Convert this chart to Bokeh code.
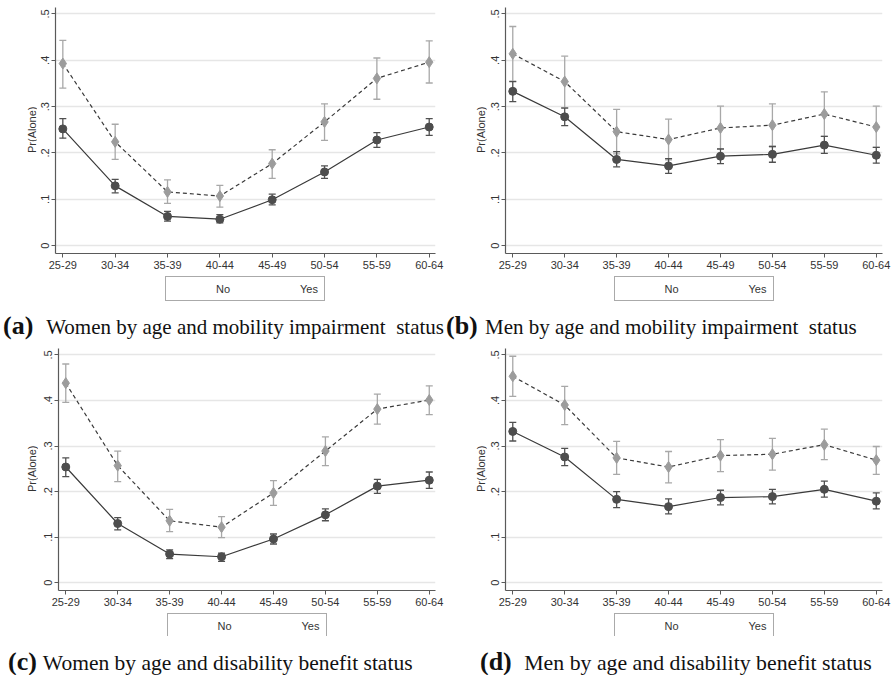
from bokeh.plotting import figure
from bokeh.models import (ColumnDataSource, Whisker, TeeHead, Legend, LegendItem,
                          FixedTicker, Range1d, Div)
from bokeh.layouts import column, row
from bokeh.embed import file_html
from bokeh.resources import INLINE

# ---------------- data ----------------
age_groups = ["25-29", "30-34", "35-39", "40-44", "45-49", "50-54", "55-59", "60-64"]

y_ticks = [0, 0.1, 0.2, 0.3, 0.4, 0.5]
y_tick_labels = ["0", ".1", ".2", ".3", ".4", ".5"]

legend_labels = ["No", "Yes"]
y_label = "Pr(Alone)"

# (a) Women by mobility impairment
a_no     = [0.252, 0.129, 0.063, 0.057, 0.099, 0.159, 0.228, 0.256]
a_no_lo  = [0.232, 0.114, 0.053, 0.049, 0.088, 0.145, 0.212, 0.238]
a_no_hi  = [0.274, 0.143, 0.074, 0.067, 0.111, 0.172, 0.244, 0.274]
a_yes    = [0.393, 0.224, 0.116, 0.107, 0.177, 0.267, 0.361, 0.396]
a_yes_lo = [0.340, 0.186, 0.091, 0.083, 0.145, 0.227, 0.316, 0.351]
a_yes_hi = [0.443, 0.262, 0.142, 0.130, 0.207, 0.306, 0.405, 0.442]

# (b) Men by mobility impairment
b_no     = [0.333, 0.278, 0.186, 0.172, 0.193, 0.197, 0.217, 0.195]
b_no_lo  = [0.311, 0.259, 0.170, 0.156, 0.177, 0.180, 0.199, 0.178]
b_no_hi  = [0.354, 0.297, 0.203, 0.188, 0.209, 0.214, 0.236, 0.212]
b_yes    = [0.414, 0.354, 0.246, 0.229, 0.254, 0.260, 0.284, 0.256]
b_yes_lo = [0.355, 0.298, 0.198, 0.185, 0.208, 0.214, 0.236, 0.212]
b_yes_hi = [0.473, 0.409, 0.294, 0.273, 0.301, 0.306, 0.332, 0.301]

# (c) Women by disability benefit
c_no     = [0.254, 0.130, 0.063, 0.057, 0.096, 0.149, 0.212, 0.225]
c_no_lo  = [0.233, 0.116, 0.053, 0.047, 0.085, 0.136, 0.196, 0.207]
c_no_hi  = [0.274, 0.143, 0.072, 0.065, 0.107, 0.162, 0.227, 0.243]
c_yes    = [0.438, 0.257, 0.136, 0.122, 0.197, 0.289, 0.381, 0.401]
c_yes_lo = [0.396, 0.222, 0.112, 0.099, 0.170, 0.257, 0.348, 0.369]
c_yes_hi = [0.480, 0.289, 0.161, 0.145, 0.224, 0.320, 0.414, 0.432]

# (d) Men by disability benefit
d_no     = [0.332, 0.276, 0.183, 0.167, 0.187, 0.189, 0.205, 0.179]
d_no_lo  = [0.311, 0.257, 0.165, 0.151, 0.171, 0.173, 0.188, 0.162]
d_no_hi  = [0.352, 0.295, 0.200, 0.184, 0.203, 0.205, 0.223, 0.197]
d_yes    = [0.453, 0.390, 0.274, 0.254, 0.279, 0.282, 0.303, 0.269]
d_yes_lo = [0.409, 0.347, 0.238, 0.219, 0.244, 0.247, 0.270, 0.238]
d_yes_hi = [0.497, 0.431, 0.310, 0.288, 0.314, 0.317, 0.337, 0.299]

captions = [
    ("(a)", "Women by age and mobility impairment&nbsp; status"),
    ("(b)", "Men by age and mobility impairment&nbsp; status"),
    ("(c)", "Women by age and disability benefit status"),
    ("(d)", "Men by age and disability benefit status"),
]

# ---------------- styling ----------------
NO_LINE = "#3a3a3a"
NO_MARK = "#4d4d4d"
NO_ERR = "#505050"
YES_LINE = "#3a3a3a"
YES_MARK = "#9c9c9c"
YES_ERR = "#a8a8a8"
AXIS = "#5a5a5a"
TEXT = "#333333"
GRID = "#e6e6e6"
SANS = "Liberation Sans"
SERIF = "Liberation Serif"

x_pos = list(range(len(age_groups)))


def legend_figure(g):
    """Small figure that only carries the legend box, centred under the plot frame."""
    lf = figure(output_backend="svg", toolbar_location=None,
                width=g["fw"], height=g["lh"],
                min_border_left=19, min_border_right=g["br"],
                min_border_top=0, min_border_bottom=0,
                x_axis_type=None, y_axis_type=None,
                x_range=Range1d(0, 1), y_range=Range1d(0, 1),
                background_fill_color="white", border_fill_color="white")
    lf.outline_line_color = None
    l_no = lf.line(x=[], y=[], line_color=NO_LINE, line_width=1.2)
    m_no = lf.scatter(x=[], y=[], marker="circle", size=8,
                      fill_color=NO_MARK, line_color=NO_MARK)
    l_yes = lf.line(x=[], y=[], line_color=YES_LINE, line_width=1.2, line_dash="4 3")
    m_yes = lf.scatter(x=[], y=[], marker="diamond", size=11,
                       fill_color=YES_MARK, line_color=YES_MARK)
    legend = Legend(items=[LegendItem(label=legend_labels[0], renderers=[l_no, m_no]),
                           LegendItem(label=legend_labels[1], renderers=[l_yes, m_yes])],
                    orientation="horizontal", location="top_center",
                    glyph_width=38, glyph_height=15, label_height=15,
                    label_standoff=8, spacing=18, padding=4, margin=1,
                    border_line_color="#555555", border_line_width=1,
                    label_text_font=SANS, label_text_font_size="11px",
                    label_text_color=TEXT)
    lf.add_layout(legend)
    return lf


def make_panel(no, no_lo, no_hi, yes, yes_lo, yes_hi, cap, g):
    p = figure(output_backend="svg", toolbar_location=None,
               width=g["fw"], height=g["h"],
               min_border_left=19, min_border_right=g["br"],
               min_border_top=g["bt"], min_border_bottom=g["bb"],
               x_range=Range1d(-0.14, 7.12), y_range=Range1d(-0.017, 0.514),
               background_fill_color="white", border_fill_color="white")
    p.outline_line_color = None

    p.xaxis.ticker = FixedTicker(ticks=x_pos)
    p.xaxis.major_label_overrides = dict(zip(x_pos, age_groups))
    p.yaxis.ticker = FixedTicker(ticks=y_ticks)
    p.yaxis.major_label_overrides = dict(zip(y_ticks, y_tick_labels))
    p.yaxis.major_label_orientation = "vertical"
    for ax in (p.xaxis, p.yaxis):
        ax.axis_line_color = AXIS
        ax.axis_line_width = 1.2
        ax.major_tick_line_color = AXIS
        ax.major_tick_in = 0
        ax.major_tick_out = 4
        ax.minor_tick_line_color = None
        ax.major_label_text_font = SANS
        ax.major_label_text_font_size = "11px"
        ax.major_label_text_color = TEXT
        ax.major_label_standoff = 3
    p.yaxis.major_label_standoff = 2

    p.xgrid.grid_line_color = None
    p.ygrid.ticker = FixedTicker(ticks=y_ticks)
    p.ygrid.grid_line_color = GRID
    p.ygrid.grid_line_width = 1.5

    src_no = ColumnDataSource(dict(x=x_pos, y=no, lo=no_lo, hi=no_hi))
    src_yes = ColumnDataSource(dict(x=x_pos, y=yes, lo=yes_lo, hi=yes_hi))

    for src, col in ((src_yes, YES_ERR), (src_no, NO_ERR)):
        p.add_layout(Whisker(base="x", lower="lo", upper="hi", source=src,
                             line_color=col, line_width=1.3, level="underlay",
                             lower_head=TeeHead(size=7, line_color=col, line_width=1.3),
                             upper_head=TeeHead(size=7, line_color=col, line_width=1.3)))

    p.line("x", "y", source=src_yes, line_color=YES_LINE, line_width=1.2, line_dash="4 3")
    p.scatter("x", "y", source=src_yes, marker="diamond", size=11,
              fill_color=YES_MARK, line_color=YES_MARK)
    p.line("x", "y", source=src_no, line_color=NO_LINE, line_width=1.2)
    p.scatter("x", "y", source=src_no, marker="circle", size=8,
              fill_color=NO_MARK, line_color=NO_MARK)

    # rotated y-axis title beside the figure, centred on the frame
    ylab_html = ('<div style="writing-mode:vertical-rl;transform:rotate(180deg);'
                 'height:%dpx;line-height:13px;text-align:center;font-family:\'%s\';'
                 'font-size:11px;color:%s;white-space:nowrap">%s</div>'
                 % (g["h"] - g["bt"] - g["bb"], SANS, TEXT, y_label))
    ylab = Div(text=ylab_html, width=g["lw"], height=g["h"], margin=(0, 0, 0, 0),
               styles={"padding-top": "%dpx" % g["bt"], "padding-left": "%dpx" % g["lp"],
                       "box-sizing": "border-box"})

    spacer = Div(text="", width=g["lw"], height=g["lh"], margin=(0, 0, 0, 0))
    lf = legend_figure(g)

    tag, text = cap
    html = ('<span style="font-weight:bold;font-size:26px;margin-right:%dpx">%s</span> %s'
            % (g["gap"], tag, text))
    cdiv = Div(text=html, width=g["lw"] + g["fw"], height=g["dh"], margin=(0, 0, 0, 0),
               styles={"font-family": SERIF, "font-size": g["fs"], "color": "#111111",
                       "line-height": "22px", "white-space": "nowrap",
                       "padding-top": "%dpx" % g["pt"], "padding-left": "%dpx" % g["pl"],
                       "box-sizing": "border-box"})
    return column(row(ylab, p, spacing=0), row(spacer, lf, spacing=0), cdiv, spacing=0)


geoms = [
    dict(lw=36, lp=26, fw=409, br=10, h=275, bt=7, bb=22, lh=28, dh=37, pt=12, pl=3,
         gap=8, fs="21px"),
    dict(lw=41, lp=30, fw=407, br=11, h=275, bt=7, bb=22, lh=28, dh=37, pt=12, pl=1,
         gap=2, fs="21px"),
    dict(lw=39, lp=26, fw=406, br=10, h=272, bt=8, bb=22, lh=24, dh=39, pt=15, pl=8,
         gap=1, fs="21.5px"),
    dict(lw=41, lp=30, fw=407, br=11, h=272, bt=8, bb=22, lh=24, dh=39, pt=15, pl=35,
         gap=7, fs="21.8px"),
]

pa = make_panel(a_no, a_no_lo, a_no_hi, a_yes, a_yes_lo, a_yes_hi, captions[0], geoms[0])
pb = make_panel(b_no, b_no_lo, b_no_hi, b_yes, b_yes_lo, b_yes_hi, captions[1], geoms[1])
pc = make_panel(c_no, c_no_lo, c_no_hi, c_yes, c_yes_lo, c_yes_hi, captions[2], geoms[2])
pd = make_panel(d_no, d_no_lo, d_no_hi, d_yes, d_yes_lo, d_yes_hi, captions[3], geoms[3])

p = column(row(pa, pb, spacing=0), row(pc, pd, spacing=0), spacing=0)

open("out.html", "w").write(file_html(p, INLINE))
